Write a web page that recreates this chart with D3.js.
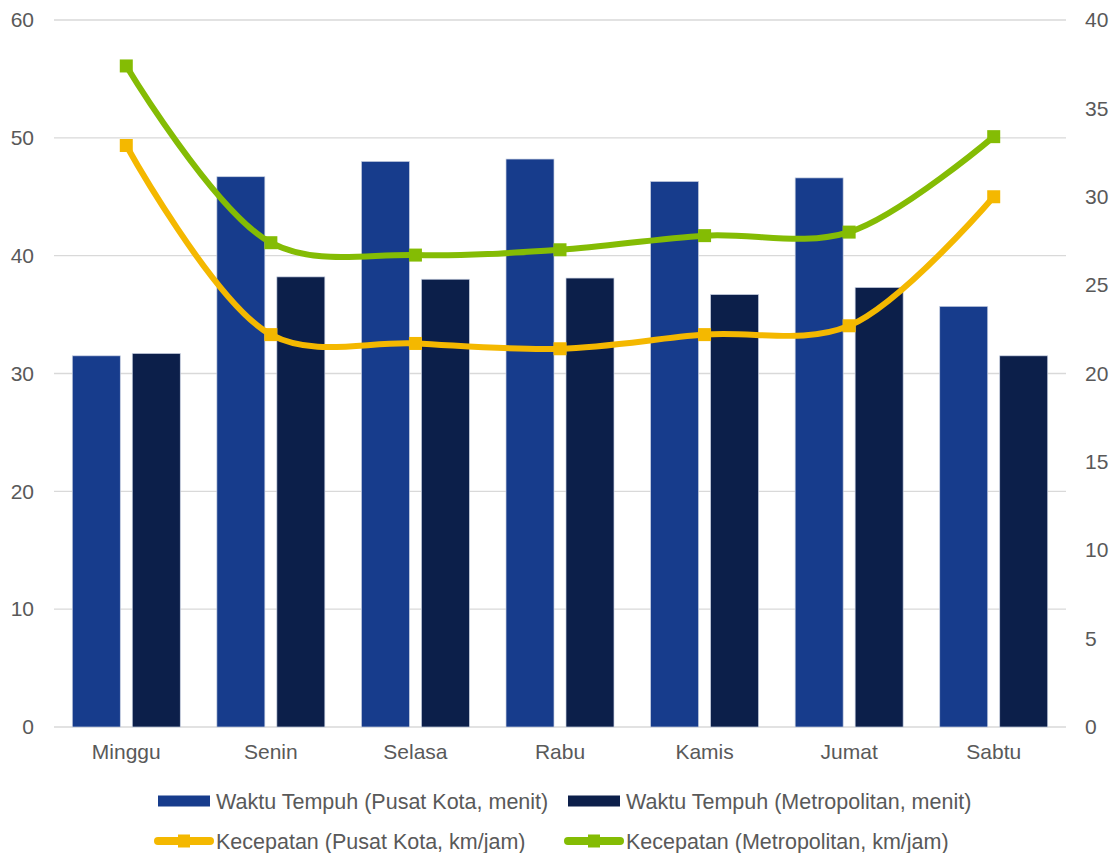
<!DOCTYPE html>
<html>
<head>
<meta charset="utf-8">
<script src="https://cdn.jsdelivr.net/npm/d3@7"></script>
<style>
  html, body { margin: 0; padding: 0; background: #ffffff; }
  svg { display: block; }
  text { font-family: "Liberation Sans", Arial, sans-serif; }
</style>
</head>
<body>
<svg id="chart" width="1115" height="853"></svg>
<script>
const categories = ["Minggu", "Senin", "Selasa", "Rabu", "Kamis", "Jumat", "Sabtu"];
const waktuPusatKota = [31.5, 46.7, 48.0, 48.2, 46.3, 46.6, 35.7];
const waktuMetropolitan = [31.7, 38.2, 38.0, 38.1, 36.7, 37.3, 31.5];
const kecepatanPusatKota = [32.9, 22.2, 21.7, 21.4, 22.2, 22.7, 30.0];
const kecepatanMetropolitan = [37.4, 27.4, 26.7, 27.0, 27.8, 28.0, 33.4];
const leftTicks = [0, 10, 20, 30, 40, 50, 60];
const rightTicks = [0, 5, 10, 15, 20, 25, 30, 35, 40];

const barSeries = [
  { name: "Waktu Tempuh (Pusat Kota, menit)", values: waktuPusatKota, color: "#173C8C" },
  { name: "Waktu Tempuh (Metropolitan, menit)", values: waktuMetropolitan, color: "#0C1F4A" }
];
const lineSeries = [
  { name: "Kecepatan (Pusat Kota, km/jam)", values: kecepatanPusatKota, color: "#F4B800" },
  { name: "Kecepatan (Metropolitan, km/jam)", values: kecepatanMetropolitan, color: "#84BC04" }
];

const svg = d3.select("#chart");
const plotLeft = 54, plotRight = 1066, plotTop = 20, plotBottom = 727;
const textColor = "#595959";
const fontSize = 21;
const legendFontSize = 21.5;

const x0 = d3.scaleBand().domain(categories).range([plotLeft, plotRight]).paddingInner(0).paddingOuter(0);
const x1 = d3.scaleBand().domain(barSeries.map(d => d.name)).range([0, x0.bandwidth()])
  .paddingInner(0.2).paddingOuter(0.305);
const yL = d3.scaleLinear().domain([0, 60]).range([plotBottom, plotTop]);
const yR = d3.scaleLinear().domain([0, 40]).range([plotBottom, plotTop]);

// gridlines
svg.append("g").selectAll("line").data(leftTicks).join("line")
  .attr("x1", plotLeft).attr("x2", plotRight)
  .attr("y1", d => yL(d)).attr("y2", d => yL(d))
  .attr("stroke", "#d9d9d9").attr("stroke-width", 1.3);

// left axis
const axL = svg.append("g").attr("transform", `translate(${plotLeft},0)`)
  .call(d3.axisLeft(yL).tickValues(leftTicks).tickSize(0).tickPadding(20));
axL.select(".domain").remove();
axL.selectAll("text").attr("fill", textColor).style("font-size", fontSize + "px")
  .style("font-family", "'Liberation Sans', Arial, sans-serif");

// right axis
const axR = svg.append("g").attr("transform", `translate(${plotRight},0)`)
  .call(d3.axisRight(yR).tickValues(rightTicks).tickSize(0).tickPadding(19));
axR.select(".domain").remove();
axR.selectAll("text").attr("fill", textColor).style("font-size", fontSize + "px")
  .style("font-family", "'Liberation Sans', Arial, sans-serif");

// bottom axis
const axB = svg.append("g").attr("transform", `translate(0,${plotBottom})`)
  .call(d3.axisBottom(x0).tickSize(0).tickPadding(17));
axB.select(".domain").remove();
axB.selectAll("text").attr("fill", textColor).style("font-size", fontSize + "px")
  .style("font-family", "'Liberation Sans', Arial, sans-serif");

// bars
barSeries.forEach(s => {
  svg.append("g").selectAll("rect").data(categories).join("rect")
    .attr("x", (c) => x0(c) + x1(s.name))
    .attr("width", x1.bandwidth())
    .attr("y", (c, i) => yL(s.values[i]))
    .attr("height", (c, i) => yL(0) - yL(s.values[i]))
    .attr("fill", s.color)
    .attr("stroke", "#c9d1e2").attr("stroke-width", 0.7);
});

// lines
const cx = c => x0(c) + x0.bandwidth() / 2;
lineSeries.forEach(s => {
  const line = d3.line()
    .x(d => cx(d.c)).y(d => yR(d.v))
    .curve(d3.curveCatmullRom.alpha(0.5));
  const data = categories.map((c, i) => ({ c, v: s.values[i] }));
  svg.append("path").datum(data)
    .attr("d", line).attr("fill", "none")
    .attr("stroke", s.color).attr("stroke-width", 6)
    .attr("stroke-linejoin", "round").attr("stroke-linecap", "round");
  const m = 13;
  svg.append("g").selectAll("rect").data(data).join("rect")
    .attr("x", d => cx(d.c) - m / 2).attr("y", d => yR(d.v) - m / 2)
    .attr("width", m).attr("height", m)
    .attr("fill", s.color);
});

// legend
const legend = svg.append("g");
const legendItems = [
  { s: barSeries[0], type: "bar", x: 158, y: 801 },
  { s: barSeries[1], type: "bar", x: 568, y: 801 },
  { s: lineSeries[0], type: "line", x: 158, y: 841 },
  { s: lineSeries[1], type: "line", x: 568, y: 841 }
];
legendItems.forEach(it => {
  const g = legend.append("g").attr("transform", `translate(${it.x},${it.y})`);
  if (it.type === "bar") {
    g.append("rect").attr("x", 0).attr("y", -5.5).attr("width", 52).attr("height", 11)
      .attr("fill", it.s.color);
  } else {
    g.append("line").attr("x1", 0).attr("x2", 52).attr("y1", 0).attr("y2", 0)
      .attr("stroke", it.s.color).attr("stroke-width", 8).attr("stroke-linecap", "round");
    g.append("rect").attr("x", 20).attr("y", -6.5).attr("width", 12).attr("height", 13)
      .attr("fill", it.s.color);
  }
  g.append("text").attr("x", 58).attr("y", 0).attr("dy", "0.35em")
    .attr("fill", textColor).style("font-size", legendFontSize + "px")
    .text(it.s.name);
});
</script>
</body>
</html>
